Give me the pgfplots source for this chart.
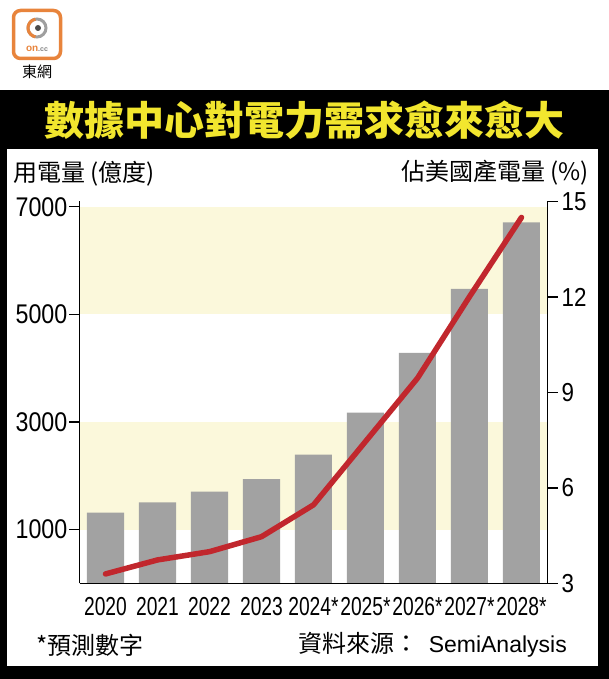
\documentclass[border=0pt]{standalone}
\usepackage{fontspec}
\setmainfont{Liberation Sans}
\newfontfamily\cjk{Noto Sans CJK TC}
\newfontfamily\narrowfont{Liberation Sans}[FakeStretch=0.74]
\newfontfamily\ynarrow{Liberation Sans}[FakeStretch=0.86]
\usepackage{pgfplots}
\pgfplotsset{compat=1.18}

\definecolor{barGray}{HTML}{A2A2A2}
\definecolor{lineRed}{HTML}{C1272D}
\definecolor{bandYellow}{HTML}{FBF8DB}
\definecolor{titleYellow}{HTML}{F2E62E}
\definecolor{logoOrange}{HTML}{E8843C}

\pgfplotsset{
  commonaxis/.style={
    at={(79.5pt,95.5pt)}, anchor=south west, scale only axis,
    width=468pt, height=382pt,
    xmin=-0.5, xmax=8.5,
    axis line style={line width=1.2pt, -},
    tick align=outside, major tick length=10pt,
    y tick style={line width=1.2pt, black},
    /pgf/number format/assume math mode=true,
    /pgf/number format/1000 sep={},
    scaled y ticks=false,
    axis on top=true,
  },
}

\begin{document}
\begin{tikzpicture}[x=1pt,y=1pt]
\path[use as bounding box] (0,0) rectangle (609,679);
\fill[black] (0,0) rectangle (609,589);
\fill[white] (7,12.5) rectangle (598,530);

% logo
\draw[logoOrange, line width=3.5pt, rounded corners=7pt] (13.5,620.5) rectangle (60.5,668.5);
\draw[gray!75, line width=3pt] (37,651) circle (9);
\draw[logoOrange, line width=3pt] (37,651) ++(100:9) arc (100:260:9);
\fill[gray!60!black] (38,651) circle (3);
\node[font=\bfseries\fontsize{10}{10}\selectfont, text=logoOrange, inner sep=0pt] at (37,630) {on\textcolor{gray}{\fontsize{7}{7}\selectfont.cc}};
\node[font=\cjk\fontsize{15}{15}\selectfont, inner sep=0pt] at (37,607) {東網};

% title
\node[font=\cjk\bfseries\fontsize{40}{40}\selectfont, text=titleYellow, inner sep=0pt] at (304,559) {數據中心對電力需求愈來愈大};

% axis titles
\node[anchor=west, font=\cjk\fontsize{24}{24}\selectfont, inner sep=0pt] at (13,505.5) {用電量 (億度)};
\node[anchor=east, font=\cjk\fontsize{24}{24}\selectfont, inner sep=0pt] at (589,506) {佔美國產電量 (\%)};

% left axis: bars
\begin{axis}[commonaxis,
  ymin=0, ymax=7100,
  axis x line*=bottom, axis y line*=left,
  xtick={0,...,8},
  xticklabels={2020,2021,2022,2023,2024*,2025*,2026*,2027*,2028*},
  x tick style={draw=none},
  ytick={1000,3000,5000,7000},
  xticklabel style={font=\narrowfont\fontsize{26}{26}\selectfont},
  yticklabel style={font=\ynarrow\fontsize{27}{27}\selectfont, inner sep=2pt},
]
\fill[bandYellow] (axis cs:-0.5,1000) rectangle (axis cs:8.5,3000);
\fill[bandYellow] (axis cs:-0.5,5000) rectangle (axis cs:8.5,7000);
\addplot[ybar, bar width=37pt, fill=barGray, draw=none] coordinates {
  (0,1316) (1,1508) (2,1707) (3,1941) (4,2395)
  (5,3175) (6,4285) (7,5476) (8,6712)
};
\end{axis}

% right axis: share of US generation
\begin{axis}[commonaxis,
  ymin=3, ymax=15,
  axis x line=none, axis y line*=right,
  ytick={3,6,9,12,15},
  yticklabel style={font=\ynarrow\fontsize{26}{26}\selectfont, inner sep=4pt},
]
\addplot[lineRed, line width=5.5pt, line join=round, line cap=round] coordinates {
  (0,3.30) (1,3.74) (2,4.00) (3,4.47) (4,5.47)
  (5,7.46) (6,9.45) (7,12.01) (8,14.50)
};
\end{axis}

% footnotes
\node[anchor=west, font=\cjk\fontsize{24}{24}\selectfont, inner sep=0pt] at (36,34) {*預測數字};
\node[anchor=east, inner sep=0pt] at (567,34) {{\cjk\fontsize{24}{24}\selectfont 資料來源：}\hspace{10pt}{\fontsize{23}{23}\selectfont SemiAnalysis}};
\end{tikzpicture}
\end{document}
